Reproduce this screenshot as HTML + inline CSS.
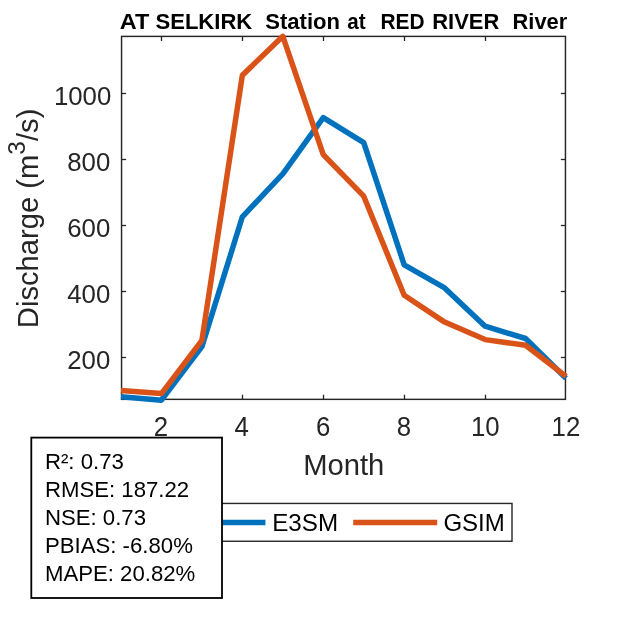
<!DOCTYPE html>
<html lang="en"><head><meta charset="utf-8"><title>AT SELKIRK Station at RED RIVER River</title>
<style>
html,body{margin:0;padding:0;background:#fff;}
body{width:625px;height:625px;overflow:hidden;}
svg{display:block;}
text{font-family:"Liberation Sans",sans-serif;}
</style></head><body>
<svg width="625" height="625" viewBox="0 0 625 625">
<rect x="0" y="0" width="625" height="625" fill="#ffffff"/>
<text y="29.1" font-size="22.5" font-weight="bold" fill="#000" xml:space="preserve"><tspan x="119.70" textLength="29.52" lengthAdjust="spacingAndGlyphs">AT</tspan> <tspan x="155.49" textLength="96.80" lengthAdjust="spacingAndGlyphs">SELKIRK</tspan>  <tspan x="265.25" textLength="74.75" lengthAdjust="spacingAndGlyphs">Station</tspan> <tspan x="347.29" textLength="18.36" lengthAdjust="spacingAndGlyphs">at</tspan>  <tspan x="380.56" textLength="44.07" lengthAdjust="spacingAndGlyphs">RED</tspan> <tspan x="432.24" textLength="67.11" lengthAdjust="spacingAndGlyphs">RIVER</tspan>  <tspan x="512.50" textLength="54.77" lengthAdjust="spacingAndGlyphs">River</tspan></text>
<g stroke="#262626" stroke-width="1.3" fill="none">
<line x1="161.50" y1="399.35" x2="161.50" y2="394.75"/>
<line x1="161.50" y1="36.40" x2="161.50" y2="41.00"/>
<line x1="242.50" y1="399.35" x2="242.50" y2="394.75"/>
<line x1="242.50" y1="36.40" x2="242.50" y2="41.00"/>
<line x1="323.50" y1="399.35" x2="323.50" y2="394.75"/>
<line x1="323.50" y1="36.40" x2="323.50" y2="41.00"/>
<line x1="404.50" y1="399.35" x2="404.50" y2="394.75"/>
<line x1="404.50" y1="36.40" x2="404.50" y2="41.00"/>
<line x1="485.50" y1="399.35" x2="485.50" y2="394.75"/>
<line x1="485.50" y1="36.40" x2="485.50" y2="41.00"/>
<line x1="121.55" y1="357.50" x2="126.15" y2="357.50"/>
<line x1="565.45" y1="357.50" x2="560.85" y2="357.50"/>
<line x1="121.55" y1="291.50" x2="126.15" y2="291.50"/>
<line x1="565.45" y1="291.50" x2="560.85" y2="291.50"/>
<line x1="121.55" y1="225.50" x2="126.15" y2="225.50"/>
<line x1="565.45" y1="225.50" x2="560.85" y2="225.50"/>
<line x1="121.55" y1="159.50" x2="126.15" y2="159.50"/>
<line x1="565.45" y1="159.50" x2="560.85" y2="159.50"/>
<line x1="121.55" y1="93.50" x2="126.15" y2="93.50"/>
<line x1="565.45" y1="93.50" x2="560.85" y2="93.50"/>
</g>
<rect x="121.55" y="36.40" width="443.90" height="362.95" fill="none" stroke="#262626" stroke-width="1.45"/>
<polyline points="121.00,396.80 161.45,400.20 201.91,346.60 242.36,216.80 282.82,173.90 323.27,117.70 363.73,142.70 404.18,264.80 444.64,287.90 485.09,326.20 525.55,338.50 566.00,378.20" fill="none" stroke="#0072BD" stroke-width="5.50" stroke-linejoin="round" stroke-linecap="butt"/>
<polyline points="121.00,390.40 161.45,393.60 201.91,340.30 242.36,75.20 282.82,36.30 323.27,154.70 363.73,196.20 404.18,295.30 444.64,322.10 485.09,339.60 525.55,345.30 566.00,376.40" fill="none" stroke="#D95319" stroke-width="5.50" stroke-linejoin="round" stroke-linecap="butt"/>
<g font-size="25.8" fill="#262626" text-anchor="end">
<text transform="translate(110.30,368.60) scale(1,1.03)">200</text>
<text transform="translate(110.30,302.63) scale(1,1.03)">400</text>
<text transform="translate(110.30,236.65) scale(1,1.03)">600</text>
<text transform="translate(110.30,170.68) scale(1,1.03)">800</text>
<text transform="translate(111.30,104.85) scale(1,1.03)">1000</text>
</g>
<g font-size="25.8" fill="#262626" text-anchor="middle">
<text transform="translate(160.90,435.7) scale(1,1.04)">2</text>
<text transform="translate(241.71,435.7) scale(1,1.04)">4</text>
<text transform="translate(323.12,435.7) scale(1,1.04)">6</text>
<text transform="translate(403.98,435.7) scale(1,1.04)">8</text>
<text transform="translate(485.24,435.7) scale(1,1.04)">10</text>
<text transform="translate(565.94,435.7) scale(1,1.04)">12</text>
</g>
<text x="343.8" y="475.1" font-size="29.2" fill="#262626" text-anchor="middle">Month</text>
<text transform="translate(38.2,218.4) rotate(-90)" font-size="29.2" fill="#262626" text-anchor="middle">Discharge (m<tspan font-size="24.4" dy="-13.4">3</tspan><tspan dy="13.4">/s)</tspan></text>
<rect x="179" y="503.45" width="333" height="37.8" fill="#fff" stroke="#262626" stroke-width="1.4"/>
<line x1="182" y1="522.45" x2="265.45" y2="522.45" stroke="#0072BD" stroke-width="5.50"/>
<text transform="translate(272.2,531.2) scale(1,1)" font-size="24.2" fill="#000">E3SM</text>
<line x1="353.2" y1="522.45" x2="437.2" y2="522.45" stroke="#D95319" stroke-width="5.50"/>
<text transform="translate(443.4,531.2) scale(0.993,1)" font-size="24.2" fill="#000">GSIM</text>
<rect x="31.3" y="437.6" width="190.7" height="160.4" fill="#fff" stroke="#000" stroke-width="1.8"/>
<g font-size="22.2" fill="#000">
<text transform="translate(44.9,468.60) scale(1,1.02)">R²: 0.73</text>
<text transform="translate(44.9,496.65) scale(1,1.02)">RMSE: 187.22</text>
<text transform="translate(44.9,524.70) scale(1,1.02)">NSE: 0.73</text>
<text transform="translate(44.9,552.75) scale(1,1.02)">PBIAS: -6.80%</text>
<text transform="translate(44.9,580.80) scale(1,1.02)">MAPE: 20.82%</text>
</g>
</svg>
</body></html>
